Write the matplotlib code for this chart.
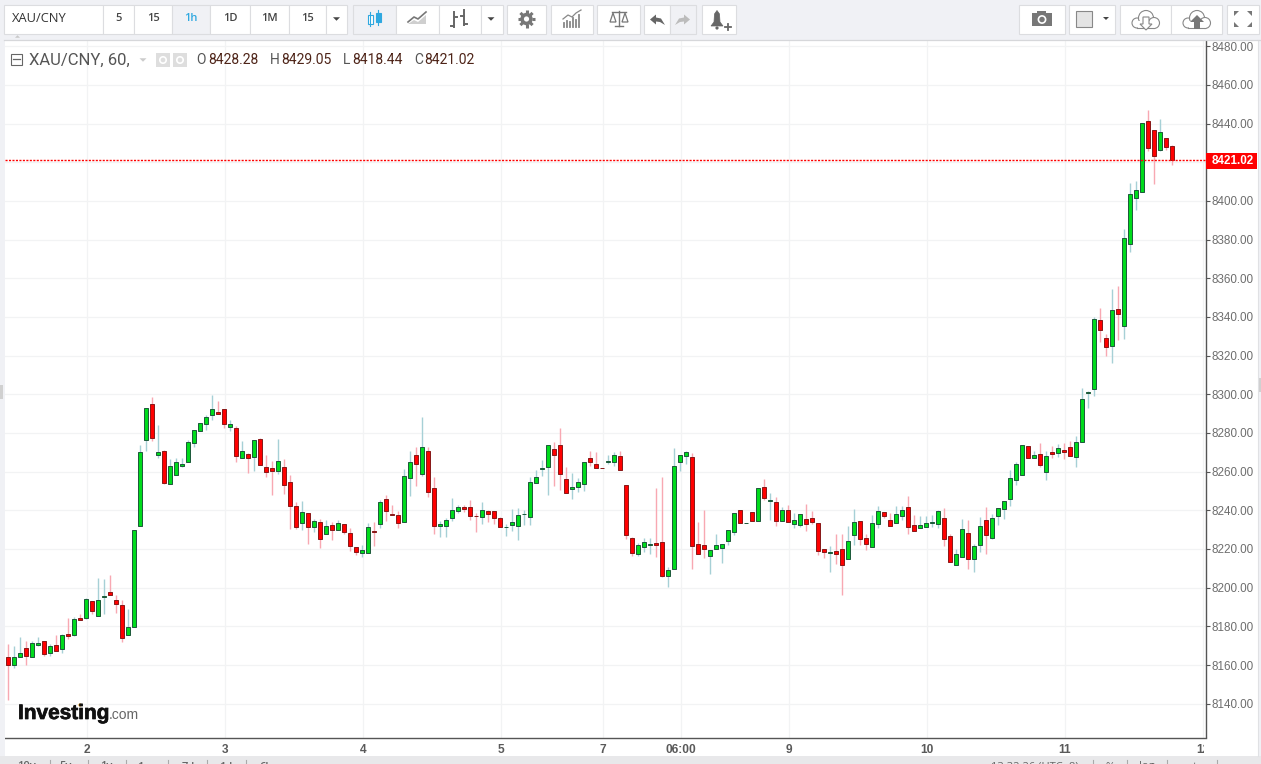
import numpy as np
import matplotlib
matplotlib.use('Agg')
import matplotlib.pyplot as plt
import matplotlib.patheffects as pe
from matplotlib.patches import Rectangle, Circle, Polygon
from matplotlib.transforms import Bbox

W, H = 1261, 764

# hourly candles
opens = [8164.1,8159.8,8164.1,8168.7,8164.4,8170.6,8172.3,8166,8170.3,8168.2,
    8176,8175.3,8184.2,8184.2,8193,8185.6,8195.4,8197.7,8193.5,8191,
    8175.3,8179.6,8232.1,8276.2,8294.8,8268.8,8270.5,8253.8,8258.1,8263.1,
    8264.9,8274.7,8281.2,8284.5,8289.1,8290.7,8292.2,8282.9,8282.4,8267.3,
    8269,8267.4,8276.7,8262.3,8261.8,8260.2,8262.3,8254.5,8242.1,8233.3,
    8238.7,8231.2,8234,8227.6,8232.5,8229.7,8233,8228.3,8221.1,8217.8,
    8218,8229.4,8233,8245.9,8238.1,8237.6,8233.8,8256.7,8268.6,8258.8,
    8270.7,8251.6,8231.8,8231.8,8235.9,8239.5,8241.8,8241.8,8237.1,8236.4,
    8239.7,8239.7,8236.1,8231.2,8232.3,8231.8,8238,8236.4,8254.2,8261.2,
    8262.4,8271.7,8273.8,8256.2,8251.1,8252.1,8253.6,8267.1,8264,8261.9,
    8264.8,8265,8268.1,8253.1,8225.7,8217.3,8220.9,8221.9,8223.2,8223.7,
    8205.9,8209.5,8264.8,8267.9,8267.6,8222.6,8222.1,8216.3,8219.9,8220.4,
    8224.2,8228.8,8240.2,8233.3,8239.2,8234.5,8252.1,8244.9,8244.3,8234.5,
    8240.2,8233,8232.5,8235.6,8236.1,8233.5,8220.1,8217.8,8219,8220.1,
    8214.7,8227.1,8234.5,8225.7,8220.9,8233,8239.2,8235,8233.5,8236.9,
    8241.8,8232.5,8230.7,8231.2,8233.3,8233,8236.1,8226.8,8211.6,8215.7,
    8228.3,8214.7,8221.9,8235,8225.6,8236.9,8240.5,8245.7,8255.7,8258.1,
    8273.3,8266.9,8269.1,8259.8,8270.2,8269.7,8271.2,8272.8,8267.6,8275.3,
    8300.7,8302.9,8338.5,8329.2,8325.1,8344.2,8335.4,8377.7,8401.5,8404.6,
    8441.2,8436.6,8426.2,8432.4,8428.28]
highs = [8171,8169.9,8174.6,8172.5,8172.5,8174.6,8172.3,8171,8175.6,8176,
    8184.4,8184.9,8186.5,8194.6,8193,8205.1,8204.6,8206.6,8196.3,8193.7,
    8189.1,8229.7,8273.8,8292.8,8298.6,8284.2,8271.1,8266.6,8267.1,8267.1,
    8276.4,8281.4,8285,8289.3,8299.7,8296.6,8292.2,8286.7,8283.6,8275.9,
    8269.5,8276.2,8277.3,8268.6,8265.5,8276.9,8266.6,8258.3,8244.4,8245,
    8238.7,8235.7,8235.7,8235.2,8234.2,8235,8233,8231.1,8221.1,8222.3,
    8233.7,8234.2,8245.5,8248.1,8243,8239.9,8261.6,8270.9,8272.9,8288.4,
    8272.9,8257.4,8234.7,8236.2,8246.6,8243,8243,8245.5,8238.7,8244.5,
    8240.4,8239.7,8236.8,8233.1,8240.9,8241.4,8240.4,8257.4,8261,8266.2,
    8273.8,8275.5,8282.8,8262.6,8259.3,8256.7,8265,8270.9,8270.4,8261.9,
    8268.8,8270.4,8270.9,8253.1,8226.4,8223.3,8225.9,8225.9,8251.7,8257.4,
    8210.9,8272.4,8268.6,8270.9,8269.7,8234.2,8240.4,8219.5,8228,8222.6,
    8229.9,8238.7,8240.2,8233.7,8239.2,8251.6,8256.2,8249.2,8247.1,8241.8,
    8243,8238.7,8238.1,8243.5,8239.9,8233.5,8220.1,8221.3,8227.5,8227.5,
    8232.1,8240.9,8234.5,8227.5,8237.8,8242.4,8239.2,8238.8,8242,8242,
    8247.6,8237.8,8237.3,8237.3,8237.8,8240.4,8241.4,8227.5,8220.2,8235.7,
    8235.2,8222.8,8236.8,8241.9,8238.1,8241.2,8244.9,8261,8265.2,8273.8,
    8273.3,8270.9,8275,8270.9,8273.3,8274.5,8275,8276,8278.6,8303.1,
    8301.7,8340.1,8344.4,8331.3,8354.7,8356.2,8385.7,8409.4,8410.4,8440.5,
    8447.1,8436.6,8442.4,8432.4,8429.05]
lows = [8142,8158.7,8164.1,8160.1,8164.1,8169.9,8164.9,8164.9,8167.2,8166.3,
    8173.6,8174.8,8183.5,8183.9,8186.5,8185.6,8186.5,8196,8187,8172,
    8175.3,8179.6,8232.1,8270.7,8276.1,8267.1,8253.8,8253.8,8258.1,8262.3,
    8264.9,8272.8,8281.2,8281.6,8286.7,8290,8282.8,8281,8265,8267.3,
    8259.3,8260.4,8263.3,8257.3,8248,8259,8248.5,8230.4,8230.4,8230,
    8222.8,8229,8220.7,8227.6,8224.9,8229.7,8227.5,8219.2,8217.1,8216.1,
    8218,8221.8,8231.1,8234.7,8237.4,8231.1,8233.8,8247.6,8252.8,8258,
    8247.1,8227.5,8226.1,8226.4,8234.5,8238.7,8239,8235.2,8229,8233.1,
    8234.2,8233.1,8231.2,8226.9,8229.2,8224.9,8232.6,8232.6,8254.2,8258,
    8248.1,8252.8,8250.4,8249,8245.7,8249.3,8249.9,8262.8,8261.9,8261.7,
    8264.2,8263.1,8260.7,8225.4,8216.6,8216.6,8218.3,8217.6,8216.1,8205.4,
    8200.6,8209.5,8260.5,8264.2,8209.9,8217.3,8215.1,8207.3,8219.9,8213,
    8221.9,8227.1,8233.5,8233.3,8234.5,8234.5,8245.2,8235.2,8232.1,8234.5,
    8234,8230.7,8231.4,8229.2,8233,8216.8,8215.1,8208.3,8212,8196.4,
    8214.7,8222.3,8221.9,8219.7,8220.9,8231.1,8236.2,8231.9,8233.5,8235,
    8227.5,8229.2,8230.7,8231.2,8231.6,8231.1,8221.3,8213.2,8211.6,8215.7,
    8209.9,8208.3,8218.7,8217.6,8225,8232.6,8235.7,8242.4,8253.3,8258.1,
    8266.9,8266.9,8262.6,8255.9,8267.3,8267.8,8266.7,8268.1,8262.6,8275.3,
    8293.1,8299.1,8327.2,8319.8,8316.2,8328,8328.6,8373.4,8395.5,8404.6,
    8425.6,8409,8425.6,8426.1,8418.44]
closes = [8159.8,8164.4,8166.1,8164.6,8171.3,8171.3,8165.5,8169.8,8167.2,8175.4,
    8174.8,8183.7,8183.5,8194.1,8187.9,8193.5,8195.6,8196,8191.8,8173.9,
    8179.6,8229.7,8270,8292.8,8277.6,8270,8254.3,8262.8,8264.9,8263.8,
    8275.2,8281.4,8285,8288.1,8292.2,8290,8284.8,8284.5,8268,8270.5,
    8266.9,8276.2,8263.3,8259.7,8260.2,8265.4,8253.3,8242.1,8231.3,8239.2,
    8231.2,8234.5,8225,8231.9,8229.7,8233.5,8228.7,8221.4,8218.3,8219.5,
    8231.4,8228.7,8244.3,8239.5,8237.4,8233.3,8257.8,8265,8263.8,8272.8,
    8249.5,8231.8,8233,8235,8240.2,8241.8,8240.5,8236.9,8236.9,8240.2,
    8238,8235.9,8231.2,8231.5,8234,8237.6,8238.3,8254.7,8257.3,8261.9,
    8273.8,8268.5,8258.8,8249,8252.1,8254.7,8265,8265,8261.9,8261.7,
    8265.5,8268.6,8260.7,8227.1,8217.8,8222.1,8223.7,8222.6,8221.9,8205.9,
    8209.2,8263.1,8268.6,8270.2,8221.4,8217.3,8219.9,8219.5,8222.1,8222.6,
    8229.9,8238.7,8233.5,8233.7,8234.5,8251.6,8246.4,8245.4,8234.5,8240.2,
    8234,8235,8238.1,8233,8234,8218.8,8218.5,8218.5,8217.3,8211.6,
    8224.2,8234,8225,8222.5,8233.5,8239.7,8236.9,8231.9,8238.1,8240.2,
    8231.2,8229.2,8232.5,8233.5,8234,8239.7,8225,8213.2,8217.5,8230.4,
    8214.7,8221.6,8231.9,8227.1,8236.1,8241.2,8244.9,8256.7,8264,8273.8,
    8266.9,8268.6,8263.3,8268.1,8269.1,8272.2,8270.2,8268.1,8275.3,8297.8,
    8301.4,8339,8333.4,8324.6,8343.7,8341.6,8380.8,8403.5,8405.6,8440.5,
    8427.3,8423,8435.5,8427.8,8421.02]

price_ticks = list(range(8140, 8500, 20))
last_price = 8421.02
date_ticks = [13.12, 36.12, 59.12, 82.12, 99.12, 112.12, 130.12, 153.12, 176.12, 199.12]
date_labels = ['2', '3', '4', '5', '7', '06:00', '9', '10', '11', '12']

interval_buttons = [('5', 103, 134), ('15', 134, 172), ('1h', 172, 210), ('1D', 210, 250),
                    ('1M', 250, 289), ('15', 289, 326)]
range_labels = [('10y', 26), ('5y', 66), ('1y', 106), ('1m', 146), ('7d', 188), ('1d', 226), ('6h', 266)]
ohlc_legend = [('O', 196, '8428.28', 208), ('H', 270, '8429.05', 281),
               ('L', 343, '8418.44', 352), ('C', 414, '8421.02', 424)]

GREEN, GREEN_EDGE, GREEN_WICK = '#00dc1c', '#1e5c3c', '#a6d0d6'
RED, RED_EDGE, RED_WICK = '#ff0000', '#8a1a1a', '#f8a8b2'
GRID = '#f2f3f4'
AXIS = '#555555'
GREY = '#6e6e6e'
BAND = '#f0f1f5'

fig = plt.figure(figsize=(W / 100, H / 100), dpi=100, facecolor='white')

# chart area, 5..1206 x 40..737.5 in pixels
ax = fig.add_axes([5 / W, 1 - 737.5 / H, 1201 / W, 697.5 / H], facecolor='white')
ax.set_xlim((5 - 8.3) / 6, (1206 - 8.3) / 6)
ax.set_ylim(8140 - 33.8 / 1.934, 8480 + 6.2 / 1.934)
ax.set_axisbelow(True)
ax.grid(True, color=GRID, lw=0.9)

x = np.arange(len(opens))
o = np.array(opens)
c = np.array(closes)
up = c >= o
ax.vlines(x[up], np.array(lows)[up], np.array(highs)[up], color=GREEN_WICK, lw=1, zorder=2)
ax.vlines(x[~up], np.array(lows)[~up], np.array(highs)[~up], color=RED_WICK, lw=1, zorder=2)
ax.bar(x[up], (c - o)[up], bottom=o[up], width=0.66, color=GREEN, edgecolor=GREEN_EDGE, lw=0.72, zorder=3)
ax.bar(x[~up], (o - c)[~up], bottom=c[~up], width=0.66, color=RED, edgecolor=RED_EDGE, lw=0.72, zorder=3)

ax.axhline(last_price, color='#ff0000', lw=1, ls=(0, (1.5, 1)), zorder=4)

for side in ['top', 'left']:
    ax.spines[side].set_visible(False)
for side in ['right', 'bottom']:
    ax.spines[side].set_color(AXIS)
    ax.spines[side].set_linewidth(1)

ax.yaxis.tick_right()
ax.set_yticks(price_ticks)
# the price tag sits where the 8420 label would be
ax.set_yticklabels(['' if p == 8420 else '%.2f' % p for p in price_ticks],
                   family='Liberation Sans', fontsize=8.4, color=GREY)
ax.tick_params(axis='y', length=3, width=0.8, color=AXIS, pad=1)
ax.set_xticks(date_ticks)
ax.set_xticklabels(date_labels, family='Liberation Sans', fontsize=8.6, weight='bold', color='#5a5a5a')
ax.tick_params(axis='x', length=0, pad=5)
# the last date label is cut off by the price scale
last_label = ax.get_xticklabels()[-1]
last_label.set_clip_on(True)
last_label.set_clip_box(Bbox([[0, 0], [1204, H]]))

# everything else is drawn in screen pixels on top
ov = fig.add_axes([0, 0, 1, 1], facecolor='none')
ov.set_xlim(0, W)
ov.set_ylim(H, 0)
ov.axis('off')


def box(x0, x1, y0=4.5, y1=33.5, fc='white', ec='#dcdde0', lw=0.8):
    ov.add_patch(Rectangle((x0, y0), x1 - x0, y1 - y0, fc=fc, ec=ec, lw=lw))


def label(px, py, s, size=8, color='#444444', ha='center', family='Open Sans', weight='normal', va='center'):
    return ov.text(px, py, s, fontsize=size, color=color, ha=ha, va=va, family=family, weight=weight)


def tri(cx, cy, r=3.5, color='#444444', down=True):
    d = r if down else -r
    ov.add_patch(Polygon([(cx - r, cy - d / 2), (cx + r, cy - d / 2), (cx, cy + d / 2)], fc=color, ec='none'))


def cloud(cx, cy, ec='#888888'):
    for dx, dy, r in [(-9, 3, 5), (0, -2, 7.5), (8, 3, 5.5)]:
        ov.add_patch(Circle((cx + dx, cy + dy), r, fc='white', ec=ec, lw=0.8))
    ov.add_patch(Rectangle((cx - 8.5, cy + 1), 17, 6.6, fc='white', ec='none', zorder=3))
    ov.plot([cx - 9, cx + 8], [cy + 8, cy + 8], color=ec, lw=0.8, zorder=3)


# grey page around the chart
ov.add_patch(Rectangle((0, 0), W, 39.5, fc=BAND, ec='none'))
ov.add_patch(Rectangle((0, 39.5), 5, H, fc=BAND, ec='none'))
ov.add_patch(Rectangle((1258, 39.5), 3, H, fc=BAND, ec='none'))
ov.plot([1257.5, 1257.5], [39.5, 756], color='#e0e1e4', lw=0.8)

# toolbar
box(4, 103)
label(12, 18.5, 'XAU/CNY', size=9.3, ha='left', color='#333333')
for name, x0, x1 in interval_buttons:
    active = name == '1h'
    box(x0, x1, fc=BAND if active else 'white')
    label((x0 + x1) / 2, 18.5, name, size=8, color='#2fa8e0' if active else '#444444', weight='semibold')
box(326, 347)
tri(336.5, 19)
tri(17.5, 36.5, r=2.5, color='#c8c8c8', down=False)

# candle / area / bars buttons
box(353, 396, fc=BAND)
ov.plot([370, 370], [12, 26], color='#2fa8e0', lw=0.8)
ov.add_patch(Rectangle((367.5, 15), 5, 9, fc='white', ec='#2fa8e0', lw=0.8))
ov.plot([378, 378], [10, 25], color='#2fa8e0', lw=0.8)
ov.add_patch(Rectangle((375.5, 13), 5, 9, fc='#2fa8e0', ec='#2fa8e0', lw=0.8))
box(396, 439)
ov.add_patch(Polygon([(408, 24), (414, 20), (418, 22), (426, 15), (426, 24)], fc='#cfcfcf', ec='none'))
ov.plot([408, 414, 418, 426], [22, 17, 19, 12], color='#777777', lw=1.2)
box(439, 481)
ov.plot([454, 454], [12, 27], color='#666666', lw=1.4)
ov.plot([451, 454], [26, 26], color='#666666', lw=1.4)
ov.plot([454, 457], [17, 17], color='#666666', lw=1.4)
ov.plot([464, 464], [10, 25], color='#666666', lw=1.4)
ov.plot([461, 464], [16, 16], color='#666666', lw=1.4)
ov.plot([464, 467], [24, 24], color='#666666', lw=1.4)
box(481, 503)
tri(491, 19)

# gear
box(507, 546)
ov.add_patch(Circle((526.5, 19), 6.2, fc='#777777', ec='none'))
for ang in np.arange(0, 360, 45):
    ca, sa = np.cos(np.radians(ang)), np.sin(np.radians(ang))
    ov.plot([526.5 + 5 * ca, 526.5 + 8.6 * ca], [19 + 5 * sa, 19 + 8.6 * sa], color='#777777', lw=2.2, solid_capstyle='butt')
ov.add_patch(Circle((526.5, 19), 2.6, fc='white', ec='none'))

# indicators
box(551, 593)
ind_x = [564, 567, 570, 573, 576, 579]
ind_top = [23, 21, 22, 18, 20, 15]
for ix, it in zip(ind_x, ind_top):
    ov.plot([ix, ix], [it, 27], color='#888888', lw=1.3)
ov.plot([563, 568, 572, 576, 581], [19, 15, 17, 13, 10], color='#888888', lw=0.9)

# scales
box(597, 640)
ov.plot([612, 626], [12, 12], color='#777777', lw=1)
ov.plot([619, 619], [11, 26], color='#777777', lw=1)
ov.plot([615, 623], [26, 26], color='#777777', lw=1)
ov.add_patch(Polygon([(613, 13), (610, 22), (616, 22)], fc='white', ec='#777777', lw=0.9))
ov.add_patch(Polygon([(625, 13), (622, 22), (628, 22)], fc='white', ec='#777777', lw=0.9))

# undo / redo
box(644, 670)
box(670, 696, fc=BAND)
undo_x = [650, 656, 656, 661, 665, 660, 656, 656]
undo_y = [19.5, 14.5, 17.5, 18.5, 25, 22, 21.5, 24.5]
ov.add_patch(Polygon(list(zip(undo_x, undo_y)), fc='#666666', ec='none'))
ov.add_patch(Polygon([(1340 - ux, uy) for ux, uy in zip(undo_x, undo_y)], fc='#bcbcbc', ec='none'))

# alert bell
box(702, 736)
ov.add_patch(Polygon([(711, 26), (714, 22), (714.5, 14), (717, 10.5), (719.5, 14), (720, 22), (723, 26)], fc='#666666', ec='#666666', lw=0.5))
ov.add_patch(Circle((717, 28), 1.6, fc='#666666', ec='none'))
ov.plot([725, 731], [27, 27], color='#666666', lw=1.3)
ov.plot([728, 728], [24, 30], color='#666666', lw=1.3)

# camera
box(1019, 1065)
ov.add_patch(Rectangle((1032, 13), 20, 13, fc='#777777', ec='none'))
ov.add_patch(Rectangle((1037, 10.5), 9, 3, fc='#777777', ec='none'))
ov.add_patch(Circle((1042, 19.5), 3.6, fc='#777777', ec='white', lw=1.2))

# colour swatch
box(1069, 1115)
ov.add_patch(Rectangle((1076, 11), 16, 16, fc='#e4e4e4', ec='#888888', lw=0.8))
tri(1106, 18.5, r=3)

# clouds
box(1120, 1171)
box(1171, 1222)
cloud(1146, 20)
cloud(1197, 20)
ov.add_patch(Polygon([(1143, 17), (1149, 17), (1149, 24), (1152, 24), (1146, 30), (1140, 24), (1143, 24)], fc='white', ec='#888888', lw=0.8, zorder=4))
ov.add_patch(Polygon([(1194, 29), (1200, 29), (1200, 22), (1204, 22), (1197, 15), (1190, 22), (1194, 22)], fc='#777777', ec='none', zorder=4))

# full screen
box(1227, 1259)
for fx, fy in [(1236, 13), (1250, 13), (1236, 25), (1250, 25)]:
    sx = 1 if fx < 1243 else -1
    sy = 1 if fy < 19 else -1
    ov.add_patch(Polygon([(fx - sx * 2, fy - sy * 2), (fx + sx * 3, fy - sy * 2), (fx - sx * 2, fy + sy * 3)], fc='#777777', ec='none'))

# chart frame top line
ov.plot([4, W], [39.5, 39.5], color='#d6d7da', lw=0.9)

# legend
ov.add_patch(Rectangle((10.5, 53.5), 11, 11, fc='white', ec='#666666', lw=0.8))
ov.plot([13, 19.5], [59, 59], color='#666666', lw=0.9)
label(29, 60.5, 'XAU/CNY, 60,', size=12, ha='left', color='#555555', family='Roboto')
tri(143, 60, r=3.5, color='#cccccc')
for sx in [156, 173]:
    ov.add_patch(Rectangle((sx, 53), 14, 14, fc='#dedede', ec='none'))
    ov.add_patch(Circle((sx + 7, 60), 3.2, fc='none', ec='white', lw=1.2))
for letter, lx, val, vx in ohlc_legend:
    label(lx, 60.5, letter, size=10, ha='left', color='#555555', family='Roboto')
    label(vx, 60.5, val, size=10, ha='left', color='#4e2418', family='Roboto')

# investing logo
logo = label(18, 719, 'Investing', size=15, ha='left', va='baseline', color='#111111', family='Liberation Sans', weight='bold')
logo.set_path_effects([pe.withStroke(linewidth=0.5, foreground='#111111')])
label(108.5, 719, '.com', size=10, ha='left', va='baseline', color='#666666', family='Liberation Sans')
ov.add_patch(Circle((80, 705), 1.6, fc='#f5a623', ec='none'))

# current price tag
ov.add_patch(Rectangle((1206, 152.5), 51, 16, fc='#ff0000', ec='none'))
label(1233, 161, '%.2f' % last_price, size=8.4, color='white', family='Liberation Sans', weight='bold')

# bottom bar, only the top of it fits in the picture
ov.add_patch(Rectangle((0, 756), W, 8, fc='#e8e8ea', ec='none'))
for sep in [50, 88, 126, 168, 207, 246, 1093, 1127, 1167, 1217]:
    ov.plot([sep, sep], [760, 764], color='#aaaaaa', lw=0.8)
for name, rx in range_labels:
    label(rx, 767, name, size=8, color='#666666', weight='semibold')
label(1035, 767, '13:32:26 (UTC+8)', size=8, color='#666666')
label(1110, 767, '%', size=8, color='#666666')
label(1147, 767, 'log', size=8, color='#666666')
label(1192, 767, 'auto', size=8, color='#666666')

# left and right edge handles
ov.add_patch(Rectangle((0, 385), 3, 14, fc='#d0d0d0', ec='none'))
ov.add_patch(Rectangle((1258, 378), 3, 14, fc='#d0d0d0', ec='none'))

fig.savefig('out.png', dpi=100, facecolor=fig.get_facecolor())
